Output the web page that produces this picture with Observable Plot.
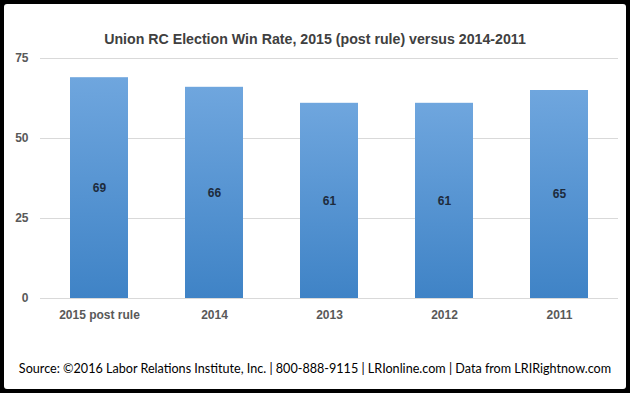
<!DOCTYPE html>
<html><head><meta charset="utf-8">
<script src="https://cdn.jsdelivr.net/npm/d3@7"></script>
<script src="https://cdn.jsdelivr.net/npm/@observablehq/plot@0.6"></script>
<style>
html,body{margin:0;padding:0;background:#000;width:630px;height:393px;overflow:hidden}
#frame{position:absolute;left:4px;top:4px;width:622px;height:385px;background:#fff;border-radius:3px}
#title{position:absolute;left:0;top:27px;width:622px;line-height:16px;text-align:center;font:bold 14.2px "Liberation Sans",Arial,sans-serif;color:#404040}
#chart{position:absolute;left:0;top:48px}
#caption{position:absolute;left:0;top:357px;width:622px;line-height:18px;text-align:center;font:12.6px Lato,sans-serif;color:#000}
</style>
</head><body>
<div id="frame">
<div id="title">Union RC Election Win Rate, 2015 (post rule) versus 2014-2011</div>
<div id="chart"></div>
<div id="caption">Source: ©2016 Labor Relations Institute, Inc. | 800-888-9115 | LRIonline.com | Data from LRIRightnow.com</div>
</div>
<script>
const categories = ["2015 post rule", "2014", "2013", "2012", "2011"];
const values = [69, 66, 61, 61, 65];
const yTicks = [0, 25, 50, 75];

const data = categories.map((c, i) => ({category: c, value: values[i]}));

const defs = () => {
  const s = d3.create("svg:defs");
  const g = s.append("linearGradient").attr("id", "barGrad")
    .attr("x1", 0).attr("y1", 0).attr("x2", 0).attr("y2", 1);
  g.append("stop").attr("offset", "0%").attr("stop-color", "#6fa6de");
  g.append("stop").attr("offset", "100%").attr("stop-color", "#3f83c6");
  return s.node();
};

const chart = Plot.plot({
  width: 622,
  height: 282,
  marginLeft: 36,
  marginRight: 8,
  marginTop: 6,
  marginBottom: 36,
  style: {fontFamily: "'Liberation Sans', Arial, sans-serif", fontSize: "12px", fontWeight: "bold", color: "#595959", background: "transparent"},
  x: {domain: categories, paddingInner: 0.5, paddingOuter: 0.25, label: null, tickSize: 0, tickPadding: 12},
  y: {domain: [0, 75], ticks: yTicks, label: null, tickSize: 0, tickPadding: 12},
  marks: [
    defs,
    Plot.ruleY(yTicks, {stroke: "#d9d9d9", strokeWidth: 1}),
    Plot.barY(data, {x: "category", y: "value", fill: "url(#barGrad)"}),
    Plot.text(data, {x: "category", y: d => d.value / 2, text: d => String(d.value), fill: "#1d2b3c", fontSize: 12, fontWeight: "bold"})
  ]
});
document.getElementById("chart").appendChild(chart);
</script>
</body></html>
